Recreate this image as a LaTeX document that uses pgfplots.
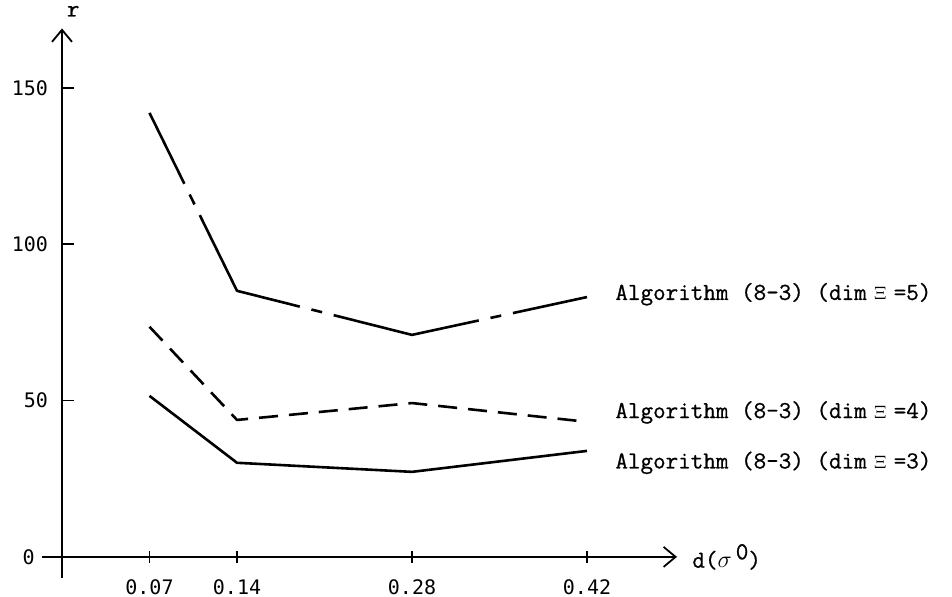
\documentclass[border=0pt]{standalone}
\usepackage{fontspec}
\newfontfamily\tickfont{DejaVu Sans Mono}
\newfontfamily\lblfont{Latin Modern Mono}[FakeBold=0.8]
\usepackage{pgfplots}
\pgfplotsset{compat=1.18}
\usetikzlibrary{arrows.meta}
\tikzset{lbl/.style={anchor=west, inner sep=0pt, font=\lblfont\fontsize{12.2}{14}\selectfont}}
\newcommand\dimxi[1]{\hspace{0.3em}{\fontsize{9}{10}\selectfont$\Xi$}\hspace{0.3em}=#1}

\begin{document}
\begin{tikzpicture}
\begin{axis}[
    scale only axis,
    width=317.5pt, height=274.7pt,
    xmin=-0.016, xmax=0.492,
    ymin=-6.7, ymax=169,
    axis lines=middle,
    axis line style={line width=0.9pt, -{Straight Barb[length=6pt,width=10pt,line width=0.9pt]}},
    xtick={0.07,0.14,0.28,0.42},
    xticklabels={0.07,0.14,0.28,0.42},
    ytick={50,100,150},
    xtick align=center,
    ytick align=inside,
    major tick length=6pt,
    tick style={line width=0.9pt, black},
    /pgf/number format/assume math mode=true,
    tick label style={font=\tickfont\fontsize{10}{12}\selectfont},
    xticklabel style={anchor=north, yshift=-5pt},
    yticklabel style={anchor=east, xshift=-3.5pt},
    clip=false,
]
% dim Xi = 5
\addplot[black, line width=1.3pt, line join=round,
    dash pattern=on 74.5pt off 6pt on 5.5pt off 6pt, dash phase=35pt]
    coordinates {(0.07,142.0) (0.14,85.1) (0.28,71.0) (0.42,83.1)};
% dim Xi = 4
\addplot[black, line width=1.3pt, line join=round,
    dash pattern=on 9.5pt off 5.5pt]
    coordinates {(0.07,73.6) (0.14,43.8) (0.28,49.2) (0.42,43.2)};
% dim Xi = 3
\addplot[black, line width=1.3pt, line join=round]
    coordinates {(0.07,51.5) (0.14,30.1) (0.28,27.2) (0.42,33.9)};

\node[lbl] at (axis cs:0.4424,84) {Algorithm (8-3) (dim\dimxi{5})};
\node[lbl] at (axis cs:0.4424,46.2) {Algorithm (8-3) (dim\dimxi{4})};
\node[lbl] at (axis cs:0.4424,30.1) {Algorithm (8-3) (dim\dimxi{3})};
\node[lbl] at (axis cs:0.5040,0) {d($\sigma$\,\raisebox{0.8ex}{0})};
\node[inner sep=0pt, font=\lblfont\fontsize{12}{14}\selectfont]
    at (axis cs:0.009,174.5) {r};
\node[anchor=east, inner sep=0pt, font=\tickfont\fontsize{10}{12}\selectfont]
    at (axis cs:-0.0216,0) {0};

\coordinate (bl) at (axis cs:-0.0496,-12.8);
\coordinate (tr) at (axis cs:0.712,178.1);
\end{axis}
\pgfresetboundingbox
\path (bl) rectangle (tr);
\end{tikzpicture}
\end{document}
